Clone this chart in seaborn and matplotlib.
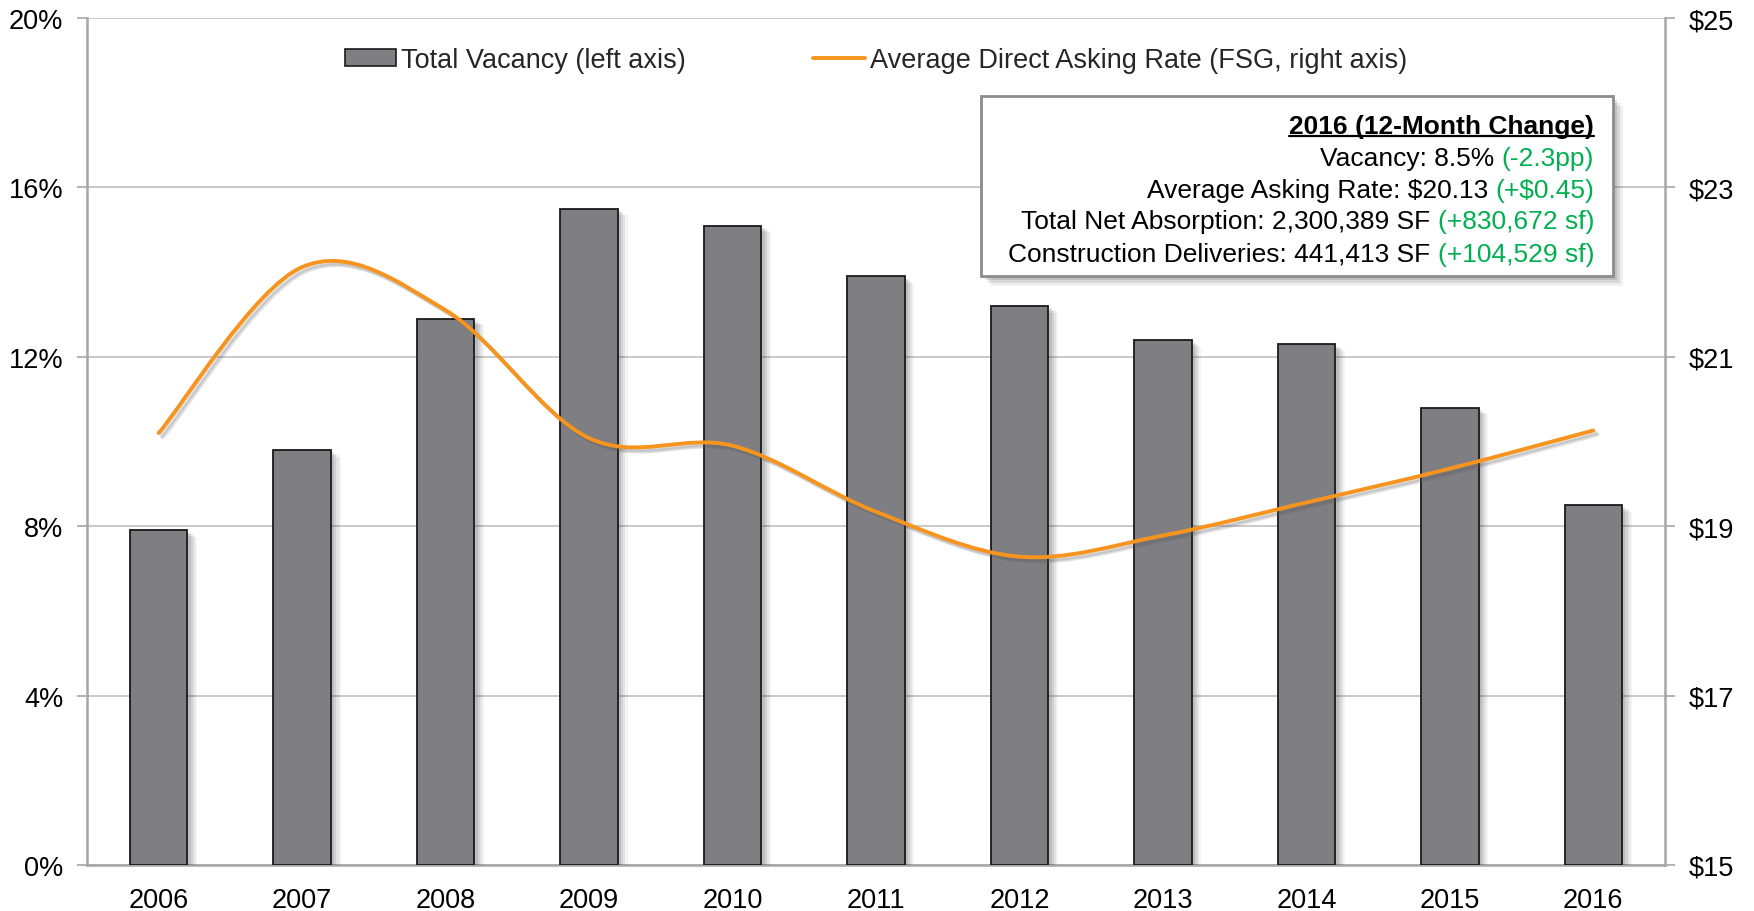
import numpy as np
import pandas as pd
import matplotlib
matplotlib.use("Agg")
import matplotlib.pyplot as plt
import seaborn as sns
from matplotlib.path import Path
from matplotlib.patches import PathPatch, Patch, Rectangle
from matplotlib.lines import Line2D
import matplotlib.patheffects as pe

# ---------------- data ----------------
years = ["2006", "2007", "2008", "2009", "2010", "2011", "2012", "2013", "2014", "2015", "2016"]
vacancy = [7.9, 9.8, 12.9, 15.5, 15.1, 13.9, 13.2, 12.4, 12.3, 10.8, 8.5]
asking_rate = [20.10, 22.06, 21.55, 20.04, 19.95, 19.17, 18.64, 18.89, 19.28, 19.68, 20.13]
left_ticks = [0, 4, 8, 12, 16, 20]
right_ticks = [15, 17, 19, 21, 23, 25]
legend_labels = ["Total Vacancy (left axis)", "Average Direct Asking Rate (FSG, right axis)"]
box_title = "2016 (12-Month Change)"
box_lines = [
    ("Vacancy: 8.5%", "(-2.3pp)"),
    ("Average Asking Rate: $20.13", "(+$0.45)"),
    ("Total Net Absorption: 2,300,389 SF", "(+830,672 sf)"),
    ("Construction Deliveries: 441,413 SF", "(+104,529 sf)"),
]

# ---------------- style ----------------
sns.set_theme(style="white")
plt.rcParams["font.family"] = ["Liberation Sans", "DejaVu Sans"]
plt.rcParams["text.parse_math"] = False

BAR_COLOR = "#7f7e83"
LINE_COLOR = "#f7941e"
GREEN = "#00b050"
GRID = "#c0c0c0"
SPINE = "#a6a6a6"
FS = 19
LFS = 19.5
TFS = 19.5

W, H = 1754, 912
fig = plt.figure(figsize=(W / 100, H / 100), dpi=100)
ax = fig.add_axes([87 / W, 46 / H, (1665 - 87) / W, (866 - 19) / H])

df = pd.DataFrame({"year": years, "vacancy": vacancy})
sns.barplot(data=df, x="year", y="vacancy", color=BAR_COLOR, saturation=1,
            width=0.4, edgecolor="#1a1a1a", linewidth=1.3, ax=ax, zorder=3)

soft_shadow = [pe.SimplePatchShadow(offset=(o, -o * 0.7), shadow_rgbFace="#333333", alpha=a)
               for o, a in [(7, 0.06), (5.5, 0.08), (4, 0.1), (2.5, 0.12)]]
for p in ax.patches:
    p.set_path_effects(soft_shadow + [pe.Normal()])

ax.set_xlim(-0.5, len(years) - 0.5)
ax.set_ylim(0, 20)
ax.set_yticks(left_ticks)
ax.set_yticklabels([f"{t}%" for t in left_ticks])
ax.set_xlabel("")
ax.set_ylabel("")
ax.yaxis.grid(True, color=GRID, lw=1.2)
ax.xaxis.grid(False)
ax.set_axisbelow(True)
for s in ["top", "right"]:
    ax.spines[s].set_visible(False)
for s in ["left", "bottom"]:
    ax.spines[s].set_color(SPINE)
    ax.spines[s].set_linewidth(1.8)
ax.tick_params(axis="y", which="both", left=True, length=7, width=1.2, color=SPINE,
               labelsize=TFS, pad=10, labelcolor="black")
ax.tick_params(axis="x", length=0, labelsize=TFS, pad=16, labelcolor="black")

# ---------------- right axis ----------------
ax2 = ax.twinx()
ax2.set_ylim(15, 25)
ax2.set_yticks(right_ticks)
ax2.set_yticklabels([f"${t}" for t in right_ticks])
ax2.grid(False)
for s in ["top", "left", "bottom"]:
    ax2.spines[s].set_visible(False)
ax2.spines["right"].set_color(SPINE)
ax2.spines["right"].set_linewidth(1.8)
ax2.tick_params(axis="y", right=True, length=7, width=1.2, color=SPINE,
                labelsize=TFS, pad=10, labelcolor="black")

# smoothed (Excel-style) line through data points
xs = np.arange(len(asking_rate), dtype=float)
ys = np.array(asking_rate, dtype=float)
pts = np.column_stack([xs, ys])
verts = [pts[0]]
codes = [Path.MOVETO]
n = len(pts)
for i in range(n - 1):
    p0 = pts[i - 1] if i > 0 else pts[i]
    p1 = pts[i]
    p2 = pts[i + 1]
    p3 = pts[i + 2] if i + 2 < n else pts[i + 1]
    c1 = p1 + (p2 - p0) / 6.0
    c2 = p2 - (p3 - p1) / 6.0
    verts += [c1, c2, p2]
    codes += [Path.CURVE4] * 3
curve = PathPatch(Path(verts, codes), fill=False, edgecolor=LINE_COLOR, lw=2.8,
                  capstyle="round", zorder=4)
curve.set_path_effects([pe.SimpleLineShadow(offset=(3, -3), shadow_color="#555555", alpha=0.18),
                        pe.SimpleLineShadow(offset=(2, -2), shadow_color="#555555", alpha=0.18),
                        pe.Normal()])
ax2.add_patch(curve)

# ---------------- legend ----------------
handles = [Patch(facecolor=BAR_COLOR, edgecolor="#1a1a1a", lw=1.2),
           Line2D([0], [0], color=LINE_COLOR, lw=2.8)]
leg = ax2.legend(handles, legend_labels, loc="center", bbox_to_anchor=(0.5, 0.950),
                 ncol=2, frameon=False, fontsize=LFS, handlelength=1.9, handletextpad=0.2,
                 columnspacing=4.7, handleheight=0.6)

# ---------------- annotation box ----------------
box = Rectangle((981 / W, 1 - 277 / H), (1613 - 981) / W, (277 - 97) / H,
                transform=fig.transFigure, facecolor="white", edgecolor="#8c8c8c",
                lw=2, zorder=5)
box.set_path_effects([pe.SimplePatchShadow(offset=(o, -o), shadow_rgbFace="#333333", alpha=a)
                      for o, a in [(7, 0.08), (5, 0.12), (3, 0.15)]] + [pe.Normal()])
fig.add_artist(box)

fig.canvas.draw()
renderer = fig.canvas.get_renderer()
x_right = 1594
baselines = [134, 166, 198, 229, 262]

t_title = fig.text(x_right / W, 1 - baselines[0] / H, box_title, ha="right", va="baseline",
                   fontsize=FS, fontweight="bold", color="black", zorder=6)
bb = t_title.get_window_extent(renderer)
uy = 1 - (baselines[0] + 3) / H
fig.add_artist(Line2D([bb.x0 / W, bb.x1 / W], [uy, uy], transform=fig.transFigure,
                      color="black", lw=1.6, zorder=6))

for (black, green), yb in zip(box_lines, baselines[1:]):
    tg = fig.text(x_right / W, 1 - yb / H, green, ha="right", va="baseline",
                  fontsize=FS, color=GREEN, zorder=6)
    gb = tg.get_window_extent(renderer)
    fig.text((gb.x0 - 7) / W, 1 - yb / H, black, ha="right", va="baseline",
             fontsize=FS, color="black", zorder=6)

fig.savefig("out.png", dpi=100, facecolor="white")
